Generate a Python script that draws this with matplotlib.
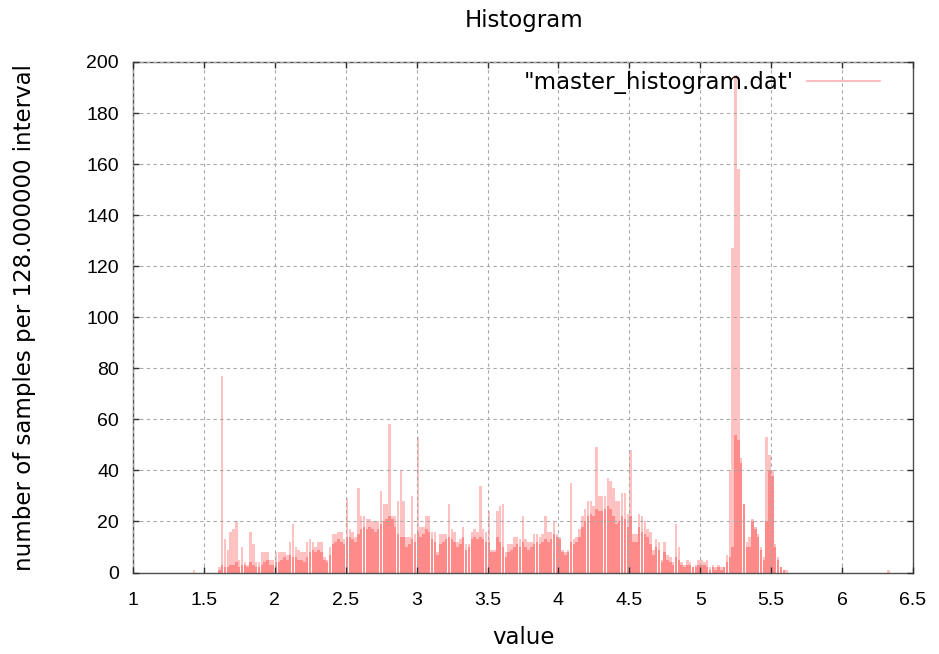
import matplotlib
matplotlib.use("Agg")
import matplotlib.pyplot as plt
from matplotlib.lines import Line2D
import numpy as np

plt.rcParams["font.family"] = ["Liberation Sans", "DejaVu Sans"]

# histogram bins, left edges start at 1.60, width 0.02
bin_start = 1.60
bin_width = 0.02

# tallest counts per bin (light layer)
counts_peak = [
    2, 77, 13, 9, 16, 17, 20, 5, 10, 4,
    3, 16, 11, 4, 4, 8, 8, 8, 5, 5,
    8, 8, 8, 8, 7, 12, 19, 10, 9, 8,
    8, 12, 13, 12, 10, 12, 12, 6, 5, 10,
    15, 15, 16, 16, 13, 29, 17, 16, 14, 33,
    22, 22, 21, 21, 20, 20, 20, 32, 27, 27,
    58, 22, 22, 28, 40, 28, 14, 14, 30, 15,
    53, 18, 18, 22, 22, 16, 16, 8, 15, 15,
    15, 27, 17, 16, 12, 13, 18, 11, 11, 16,
    17, 16, 34, 17, 16, 24, 9, 9, 24, 26,
    27, 8, 11, 11, 14, 14, 13, 22, 13, 12,
    12, 15, 15, 14, 15, 22, 16, 16, 20, 15,
    14, 9, 8, 9, 35, 13, 14, 17, 22, 25,
    28, 28, 26, 49, 30, 30, 30, 37, 36, 33,
    28, 28, 31, 31, 23, 48, 15, 15, 23, 22,
    20, 17, 16, 9, 13, 12, 5, 12, 7, 6,
    4, 19, 10, 4, 3, 5, 4, 2, 3, 5,
    5, 4, 5, 2, 3, 2, 3, 2, 2, 7,
    40, 127, 195, 158, 45, 27, 12, 14, 21, 18,
    15, 10, 6, 53, 46, 40, 11, 6, 2, 1,
    1,
]

# typical counts per bin (dark layer)
counts_base = [
    1, 3, 2, 2, 3, 3, 4, 2, 3, 3,
    2, 4, 3, 2, 2, 3, 4, 5, 3, 3,
    4, 4, 5, 6, 5, 7, 6, 6, 5, 5,
    4, 6, 8, 9, 8, 9, 8, 5, 4, 7,
    11, 12, 13, 12, 11, 14, 14, 13, 12, 15,
    17, 18, 17, 18, 17, 16, 17, 19, 20, 21,
    22, 21, 18, 15, 14, 14, 10, 11, 13, 12,
    16, 14, 15, 17, 16, 13, 12, 7, 11, 12,
    13, 14, 13, 12, 10, 11, 14, 9, 10, 13,
    14, 13, 14, 13, 12, 12, 8, 8, 14, 12,
    10, 6, 8, 9, 10, 11, 10, 12, 10, 9,
    10, 11, 12, 11, 12, 13, 12, 13, 15, 14,
    13, 8, 7, 8, 12, 11, 12, 14, 18, 20,
    22, 23, 22, 25, 24, 24, 25, 26, 25, 22,
    19, 20, 22, 21, 18, 22, 12, 12, 18, 16,
    15, 14, 11, 7, 10, 9, 4, 8, 5, 4,
    3, 6, 5, 3, 2, 3, 3, 2, 2, 3,
    3, 3, 2, 1, 2, 1, 2, 1, 2, 4,
    6, 10, 54, 52, 43, 27, 10, 10, 20, 17,
    14, 9, 5, 20, 40, 38, 10, 5, 2, 1,
    0,
]

# a couple of isolated samples outside the main range
stray_x = [1.42, 6.32]
stray_n = [1, 1]

edges = bin_start + bin_width * np.arange(len(counts_peak))

fig = plt.figure(figsize=(9.39, 6.54), dpi=100)
ax = fig.add_axes([0.1416, 0.1246, 0.8307, 0.7806])

ax.bar(edges, counts_peak, width=bin_width * 0.88, align="edge",
       color="#ffc2c2", linewidth=0)
ax.bar(edges, counts_base, width=bin_width * 0.88, align="edge",
       color="#ff8a8a", linewidth=0)
ax.bar(stray_x, stray_n, width=bin_width * 0.88, align="edge",
       color="#ffc2c2", linewidth=0)

ax.set_xlim(1, 6.5)
ax.set_ylim(0, 200)
ax.set_xticks(np.arange(1, 6.51, 0.5))
ax.set_xticklabels(["1", "1.5", "2", "2.5", "3", "3.5", "4", "4.5",
                    "5", "5.5", "6", "6.5"])
ax.set_yticks(np.arange(0, 201, 20))

ax.set_axisbelow(False)
ax.grid(True, color="#a8a8a8", linestyle=(0, (3, 3)), linewidth=0.8)

for s in ax.spines.values():
    s.set_color("#505050")
    s.set_linewidth(1.0)

ax.tick_params(direction="in", length=4.5, width=1, color="#303030",
               top=True, right=True, labelsize=14)
ax.tick_params(axis="x", pad=14)
ax.tick_params(axis="y", pad=10)

label_font = dict(family=["DejaVu Sans"], fontsize=16.5)

legend_handle = Line2D([], [], color="#ffb0b0", linewidth=1.2)
ax.legend([legend_handle], ['"master_histogram.dat\''], loc="center right",
          bbox_to_anchor=(0.9577, 0.9589), frameon=False, markerfirst=False,
          handlelength=3.2, handletextpad=0.55, borderpad=0, borderaxespad=0,
          prop={"family": "DejaVu Sans", "size": 16.5})

fig.text(524 / 939, 1 - 20 / 654, "Histogram", ha="center", va="center",
         **label_font)
fig.text(524 / 939, 1 - 637 / 654, "value", ha="center", va="center",
         **label_font)
fig.text(25 / 939, 1 - 318 / 654, "number of samples per 128.000000 interval",
         ha="center", va="center", rotation=90, **label_font)

fig.savefig("out.png", dpi=100)
plt.close(fig)
